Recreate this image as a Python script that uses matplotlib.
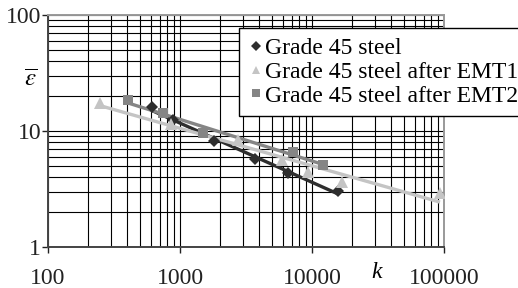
import numpy as np
import matplotlib
matplotlib.use("Agg")
import matplotlib.pyplot as plt
from matplotlib.ticker import LogLocator, NullFormatter, FixedLocator, FixedFormatter

plt.rcParams["font.family"] = "Liberation Serif"
plt.rcParams["mathtext.fontset"] = "stix"

# values (k, eps)
k_steel = [611, 890, 1819, 3700, 6610, 15800]
e_steel = [16.0, 12.4, 8.25, 5.7, 4.32, 3.06]

k_emt1 = [248, 850, 2767, 5890, 9380, 16800, 93300]
e_emt1 = [17.3, 11.4, 8.36, 5.62, 4.46, 3.66, 2.9]

k_emt2 = [406, 739, 1502, 7220, 12180]
e_emt2 = [18.5, 14.2, 9.55, 6.63, 5.09]

labels = ["Grade 45 steel", "Grade 45 steel after EMT1", "Grade 45 steel after EMT2"]
colors = ["#2e2e2e", "#c4c4c4", "#858585"]
markers = ["D", "^", "s"]
msizes = [6, 8, 7]


def power_trend(k, e):
    # power-law trendline fitted in log-log space
    p = np.polyfit(np.log10(k), np.log10(e), 1)
    kk = np.array([min(k), max(k)])
    return kk, 10 ** np.polyval(p, np.log10(kk))


fig = plt.figure(figsize=(5.18, 2.88), dpi=100)
ax = fig.add_axes([48 / 518, 1 - 247 / 288, (444 - 48) / 518, (247 - 15) / 288])

series = [(k_steel, e_steel), (k_emt1, e_emt1), (k_emt2, e_emt2)]
for (k, e), c in zip(series, colors):
    kk, ee = power_trend(k, e)
    ax.plot(kk, ee, color=c, lw=2.4, solid_capstyle="butt", zorder=2)
handles = []
for (k, e), c, m, ms, lab in zip(series, colors, markers, msizes, labels):
    h, = ax.plot(k, e, ls="none", marker=m, color=c, ms=ms, mew=0, label=lab, zorder=3)
    handles.append(h)

ax.set_xscale("log")
ax.set_yscale("log")
ax.set_xlim(100, 100000)
ax.set_ylim(1, 100)

ax.xaxis.set_major_locator(FixedLocator([100, 1000, 10000, 100000]))
ax.xaxis.set_major_formatter(FixedFormatter(["100", "1000", "10000", "100000"]))
ax.yaxis.set_major_locator(FixedLocator([1, 10, 100]))
ax.yaxis.set_major_formatter(FixedFormatter(["1", "10", "100"]))
ax.xaxis.set_minor_locator(LogLocator(base=10, subs=np.arange(2, 10)))
ax.yaxis.set_minor_locator(LogLocator(base=10, subs=np.arange(2, 10)))
ax.xaxis.set_minor_formatter(NullFormatter())
ax.yaxis.set_minor_formatter(NullFormatter())

ax.grid(True, which="both", color="black", lw=0.8)
ax.set_axisbelow(True)
ax.tick_params(which="major", direction="out", length=4, width=1, labelsize=17, colors="#222222")
ax.tick_params(axis="x", which="major", pad=11)
ax.tick_params(axis="y", which="major", pad=1)
ax.tick_params(which="minor", length=0)
for s in ["left", "bottom"]:
    ax.spines[s].set_color("#444444")
    ax.spines[s].set_linewidth(1.4)
for s in ["top", "right"]:
    ax.spines[s].set_color("#999999")
    ax.spines[s].set_linewidth(1.4)

fig.text(31 / 518, 1 - 80 / 288, r"$\overline{\varepsilon}$", fontsize=18, ha="center", va="center")
fig.text(377 / 518, 1 - 272 / 288, "k", fontsize=17, style="italic", ha="center", va="center")

leg = fig.legend(handles=handles, loc="upper left", bbox_to_anchor=(239 / 518, 1 - 28 / 288),
                 fontsize=17, frameon=True, fancybox=False, handlelength=0.6,
                 handletextpad=0.1, labelspacing=0.1, borderpad=0.4, borderaxespad=0,
                 markerscale=0.8)
leg.get_frame().set_edgecolor("black")
leg.get_frame().set_linewidth(1.0)
leg.get_frame().set_alpha(1)

fig.savefig("out.png", dpi=100)
